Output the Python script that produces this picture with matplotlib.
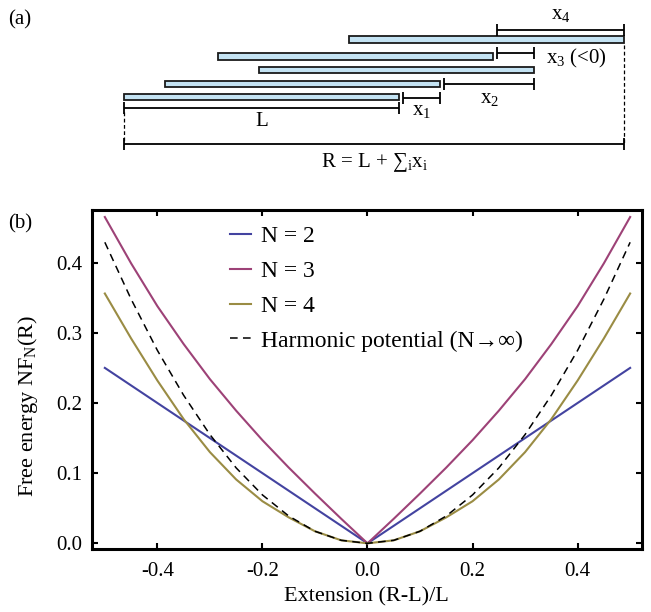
import matplotlib
matplotlib.use('Agg')
import matplotlib.pyplot as plt

plt.rcParams['font.family'] = ['Liberation Serif', 'DejaVu Serif']
plt.rcParams['mathtext.fontset'] = 'custom'
plt.rcParams['mathtext.rm'] = 'Liberation Serif'
plt.rcParams['mathtext.it'] = 'Liberation Serif'
plt.rcParams['axes.unicode_minus'] = False

# ---- panel (a): telescoping filaments, lengths in units of L
L = 1.0
offsets = [0.148, 0.342, -0.148, 0.476]          # x_1 .. x_4
offset_labels = ['x$_1$', 'x$_2$', 'x$_3$ (<0)', 'x$_4$']

# ---- panel (b): free energy curves
extension = [-0.5, -0.45, -0.4, -0.35, -0.3, -0.25, -0.2, -0.15, -0.1, -0.05, 0.0,
             0.05, 0.1, 0.15, 0.2, 0.25, 0.3, 0.35, 0.4, 0.45, 0.5]
f_n2 = [0.25, 0.225, 0.2, 0.175, 0.15, 0.125, 0.1, 0.075, 0.05, 0.025, 0.0,
        0.025, 0.05, 0.075, 0.1, 0.125, 0.15, 0.175, 0.2, 0.225, 0.25]
f_n3 = [0.465, 0.399, 0.338, 0.284, 0.234, 0.189, 0.147, 0.108, 0.071, 0.035, 0.0,
        0.035, 0.071, 0.108, 0.147, 0.189, 0.234, 0.284, 0.338, 0.399, 0.465]
f_n4 = [0.356, 0.292, 0.232, 0.177, 0.130, 0.091, 0.060, 0.037, 0.0172, 0.0043, 0.0,
        0.0043, 0.0172, 0.037, 0.060, 0.091, 0.130, 0.177, 0.232, 0.292, 0.356]
f_harm = [0.429, 0.348, 0.275, 0.211, 0.155, 0.1075, 0.069, 0.039, 0.0172, 0.0043, 0.0,
          0.0043, 0.0172, 0.039, 0.069, 0.1075, 0.155, 0.211, 0.275, 0.348, 0.429]
ticks_x = [-0.4, -0.2, 0.0, 0.2, 0.4]
ticks_y = [0.0, 0.1, 0.2, 0.3, 0.4]

fig = plt.figure(figsize=(6.51, 6.12), dpi=100)

# ---------------- (a) ----------------
ax_a = fig.add_axes([0, 1 - 190 / 612, 1, 190 / 612])
ax_a.set_xlim(-124.3 / 275, (651 - 124.3) / 275)
ax_a.set_ylim(190, 0)   # vertical axis in pixel rows
ax_a.axis('off')

rights = [L]
for dx in offsets:
    rights.append(rights[-1] + dx)
lefts = [r - L for r in rights]
R = rights[-1]

bar_y = [97.2, 84.2, 70.0, 56.7, 39.7]
ax_a.barh(bar_y, [L] * len(bar_y), left=lefts, height=6.5,
          color='#c4e3f3', edgecolor='#1a1a1a', linewidth=1.3)


def dim_line(ax, x0, x1, y):
    ax.plot([x0, x1], [y, y], color='k', lw=1.3, solid_capstyle='butt')
    ax.plot([x0, x1], [y, y], ls='none', marker='|', ms=8, mew=1.3, color='k')


gap = 0.015
dim_y = [97.7, 84.0, 53.3, 30.0]
for i, dx in enumerate(offsets):
    a, b = sorted([rights[i], rights[i + 1]])
    dim_line(ax_a, a + gap, b, dim_y[i])

fs = 15
ax_a.text((rights[0] + rights[1]) / 2 + gap / 2, 110, offset_labels[0], ha='center', va='center', fontsize=fs)
ax_a.text((rights[1] + rights[2]) / 2 + gap / 2, 99, offset_labels[1], ha='center', va='center', fontsize=fs)
ax_a.text(rights[2] + 0.045, 58, offset_labels[2], ha='left', va='center', fontsize=fs)
ax_a.text((rights[3] + rights[4]) / 2 + gap / 2, 15, offset_labels[3], ha='center', va='center', fontsize=fs)

# L and R
dim_line(ax_a, 0, L, 108.3)
ax_a.text(L / 2, 122, 'L', ha='center', va='center', fontsize=fs)
ax_a.plot([0, 0], [112, 144], color='k', lw=0.9, ls=(0, (3, 2)))
ax_a.plot([R, R], [45, 144], color='k', lw=0.9, ls=(0, (3, 2)))
dim_line(ax_a, 0, R, 144)
ax_a.text(R / 2, 163, 'R = L + \u2211$_\\mathrm{i}$x$_\\mathrm{i}$', ha='center', va='center', fontsize=fs)

fig.text(8 / 651, 1 - 20 / 612, '(a)', va='center', fontsize=fs)
fig.text(8 / 651, 1 - 224 / 612, '(b)', va='center', fontsize=fs)

# ---------------- (b) ----------------
ax = fig.add_axes([91.7 / 651, 1 - 549.3 / 612, 550 / 651, 339.3 / 612])
ax.plot(extension, f_n2, color='#4343a0', lw=1.5, label='N = 2')
ax.plot(extension, f_n3, color='#9d4277', lw=1.5, label='N = 3')
ax.plot(extension, f_n4, color='#9a8c44', lw=1.5, label='N = 4')
ax.plot(extension, f_harm, color='k', lw=1.1, ls=(0, (5, 3.5)),
        label='Harmonic potential (N\u2192\u221e)')

ax.set_xlim(-0.525, 0.522)
ax.set_ylim(-0.0085, 0.475)
ax.set_xticks(ticks_x)
ax.set_xticklabels(['%.1f' % t for t in ticks_x])
ax.set_yticks(ticks_y)
ax.set_yticklabels(['%.1f' % t for t in ticks_y])
ax.tick_params(direction='in', length=4, width=1.5, top=True, right=True,
               labelsize=fs, pad=7)
ax.tick_params(axis='x', pad=9)
for s in ax.spines.values():
    s.set_linewidth(2.2)

ax.set_xlabel('Extension (R-L)/L', fontsize=16)
ax.set_ylabel('Free energy NF$_\\mathrm{N}$(R)', fontsize=16)
ax.xaxis.set_label_coords(0.5, -0.112)
ax.yaxis.set_label_coords(-0.094, 0.422)

ax.legend(loc='upper left', bbox_to_anchor=(0.2515, 0.955), frameon=False,
          fontsize=17, handlelength=0.88, handletextpad=0.42, labelspacing=0.57,
          borderpad=0, borderaxespad=0)

fig.savefig('out.png', dpi=100)
